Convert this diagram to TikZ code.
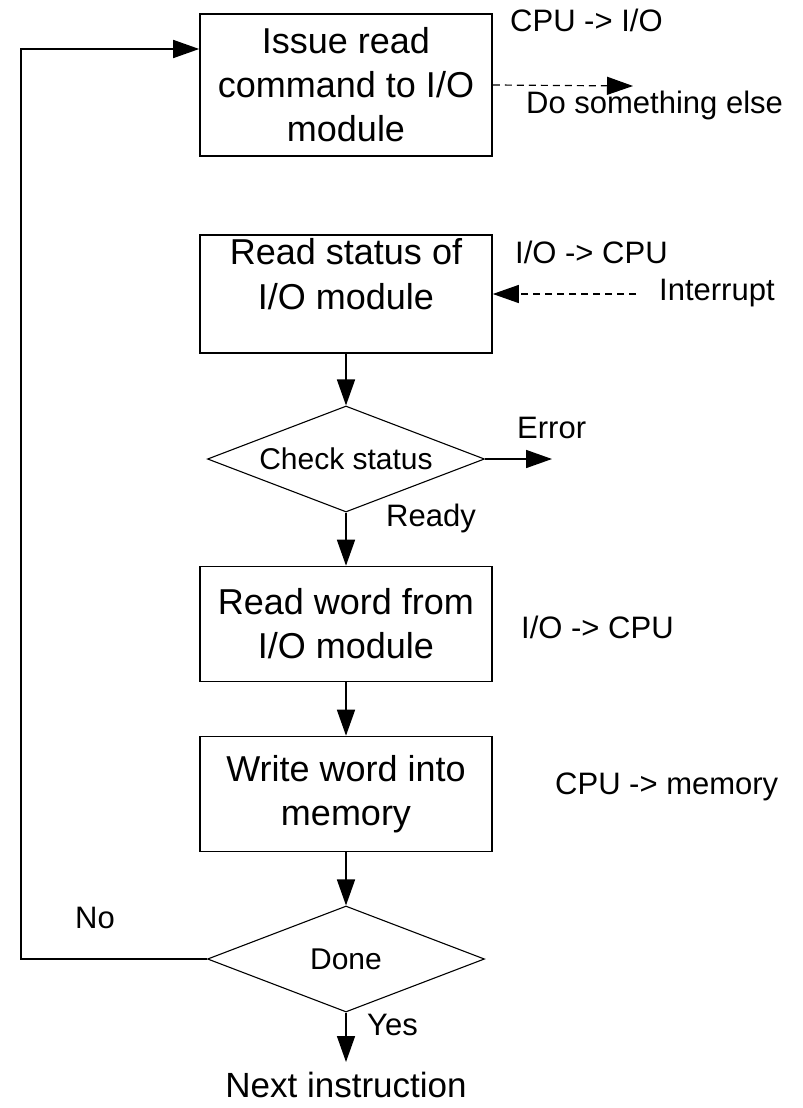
\documentclass[tikz,border=0pt]{standalone}
\usepackage{fontspec}
\setmainfont{Liberation Sans}
\usetikzlibrary{shapes.geometric, arrows.meta}

\tikzset{
  box/.style = {draw, line width=1.6bp, minimum width=292bp, align=center, font=\fontsize{36bp}{44bp}\selectfont},
  decision/.style = {draw, diamond, aspect=2.6, line width=1.1bp, minimum width=277bp, minimum height=106bp, inner sep=0pt, font=\fontsize{30bp}{36bp}\selectfont},
  note/.style = {anchor=west, inner sep=0pt, font=\fontsize{31bp}{36bp}\selectfont},
  flow/.style = {line width=1.6bp, -{Triangle[length=26bp, width=18bp]}},
  maybe/.style = {flow, line width=1.2bp, dash pattern=on 7bp off 5bp},
}

\begin{document}
\begin{tikzpicture}[x=1bp, y=-1bp]
  \path[fill=white, use as bounding box] (0,0) rectangle (803,1108);

  \node [box, minimum height=142bp] (issue) at (346,85) {Issue read\\command to I/O\\module};
  \node [box, minimum height=118bp] (status) at (346,294) {};
  \node [align=center, font=\fontsize{36bp}{45bp}\selectfont] (statustext) at (346,274) {Read status of\\I/O module};
  \node [decision] (check) at (346,459) {Check status};
  \node [box, minimum height=115bp] (readword) at (346,624) {Read word from\\I/O module};
  \node [box, minimum height=115bp] (write) at (346,794) {Write word into\\memory};
  \node [decision] (done) at (346,959) {Done};
  \node [font=\fontsize{35bp}{40bp}\selectfont] (next) at (346,1085) {Next instruction};

  \coordinate (loop) at (21,49);
  \coordinate (else) at (633,86);
  \coordinate (intr) at (636,294);
  \coordinate (err)  at (552,459);
  \coordinate (yes)  at (346,1062);

  %\draw[flow] (done.west) -- (loop);
  \draw[flow] (done.west) -| (loop) -- (loop -| issue.west);
  \draw[maybe] (issue.east) -- (else);
  \draw[maybe] (intr) -- (status.east);
  \draw[flow] (status.south) -- (check.north);
  \draw[flow] (check.east) -- (err);
  \draw[flow] (check.south) -- (readword.north);
  \draw[flow] (readword.south) -- (write.north);
  \draw[flow] (write.south) -- (done.north);
  \draw[flow] (done.south) -- (yes);

  \node [note] (cpuio)     at (510,20)   {CPU -> I/O};
  \node [note] (other)     at (526,105)  {Do something else};
  \node [note] (iocpua)    at (515,252)  {I/O -> CPU};
  \node [note] (intrtext)  at (659,293)  {Interrupt};
  \node [note] (errtext)   at (517,428)  {Error};
  \node [note] (readytext) at (386,518)  {Ready};
  \node [note] (iocpub)    at (521,627)  {I/O -> CPU};
  \node [note] (cpumem)    at (555,787)  {CPU -> memory};
  \node [note] (notext)    at (75,918)   {No};
  \node [note] (yestext)   at (367,1025) {Yes};
\end{tikzpicture}
\end{document}
